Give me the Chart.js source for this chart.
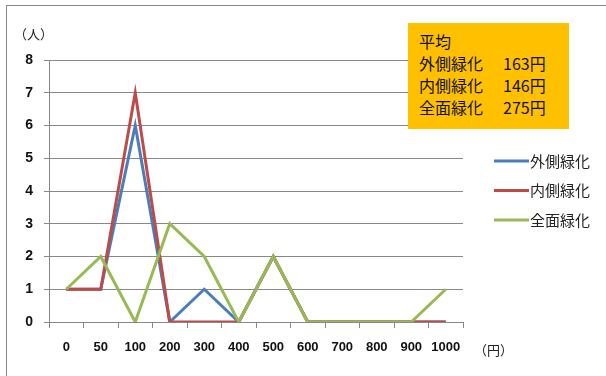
<!DOCTYPE html>
<html>
<head>
<meta charset="utf-8">
<script src="https://cdn.jsdelivr.net/npm/chart.js@4.4.0/dist/chart.umd.min.js"></script>
<style>
  html, body { margin: 0; padding: 0; background: #fff; }
  #wrap { position: relative; width: 606px; height: 376px; overflow: hidden;
          font-family: "Noto Sans CJK JP", "Noto Sans", sans-serif; }
  #frame { position: absolute; left: 6px; top: 5px; width: 700px; height: 500px;
           border-left: 1px solid #888; border-top: 1px solid #888; }
  #avg { position: absolute; left: 408px; top: 23px; width: 161px; height: 106px;
         background: #FFC000; font-size: 16px; line-height: 22px; color: #111;
         padding: 7px 0 0 11px; box-sizing: border-box; }
  #avg span { display: inline-block; width: 84px; }
  .unit { position: absolute; font-size: 13px; color: #222; }
  canvas { position: absolute; left: 0; top: 0; }
</style>
</head>
<body>
<div id="wrap">
  <div id="frame"></div>
  <canvas id="chart" width="606" height="376"></canvas>
  <div class="unit" style="left:14px; top:24px;">（人）</div>
  <div class="unit" style="left:474px; top:340px;">（円）</div>
  <div id="avg">
    平均<br>
    <span>外側緑化</span>163円<br>
    <span>内側緑化</span>146円<br>
    <span>全面緑化</span>275円
  </div>
</div>
<script>
// 価格帯（円）
const categories = ['0', '50', '100', '200', '300', '400', '500', '600', '700', '800', '900', '1000'];
// 人数
const outerGreen = [1, 1, 6, 0, 1, 0, 2, 0, 0, 0, 0, 0];
const innerGreen = [1, 1, 7, 0, 0, 0, 2, 0, 0, 0, 0, 0];
const fullGreen  = [1, 2, 0, 3, 2, 0, 2, 0, 0, 0, 0, 1];
const seriesNames = ['外側緑化', '内側緑化', '全面緑化'];
const colors = ['#4A7EBB', '#BE4B48', '#98B954'];

// 右側の凡例を描く
const sideLegend = {
  id: 'sideLegend',
  afterDraw(chart) {
    const c = chart.ctx;
    c.save();
    c.font = '15px "Noto Sans CJK JP", sans-serif';
    c.textBaseline = 'middle';
    chart.data.datasets.forEach((ds, i) => {
      const y = 161 + i * 29.5;
      c.strokeStyle = ds.borderColor;
      c.lineWidth = 3;
      c.beginPath();
      c.moveTo(494, y);
      c.lineTo(529, y);
      c.stroke();
      c.fillStyle = '#222';
      c.fillText(ds.label, 530, y);
    });
    c.restore();
  }
};

const ctx = document.getElementById('chart').getContext('2d');
new Chart(ctx, {
  type: 'line',
  data: {
    labels: categories,
    // 後の系列ほど上に重ねる
    datasets: [outerGreen, innerGreen, fullGreen].map((d, i) => ({
      label: seriesNames[i],
      data: d,
      borderColor: colors[i],
      backgroundColor: colors[i],
      borderWidth: 3,
      pointRadius: 0,
      tension: 0,
      fill: false,
      order: 2 - i
    }))
  },
  options: {
    responsive: false,
    animation: false,
    layout: { padding: { left: 0, top: 60, right: 143, bottom: 0 } },
    plugins: { legend: { display: false }, tooltip: { enabled: false } },
    scales: {
      x: {
        offset: true,
        afterFit: s => { s.height = 54; },
        grid: { offset: true, drawOnChartArea: false, drawTicks: true, tickLength: 6, color: '#888' },
        border: { color: '#888' },
        ticks: { color: '#111', padding: 12, font: { size: 13, weight: 'bold', family: 'Liberation Sans' }, maxRotation: 0, autoSkip: false }
      },
      y: {
        min: 0,
        max: 8,
        afterFit: s => { s.width = 49; },
        grid: { color: '#888', tickLength: 5 },
        border: { color: '#888' },
        ticks: { stepSize: 1, color: '#111', padding: 11, font: { size: 14, weight: 'bold', family: 'Liberation Sans' } }
      }
    }
  },
  plugins: [sideLegend]
});
</script>
</body>
</html>
